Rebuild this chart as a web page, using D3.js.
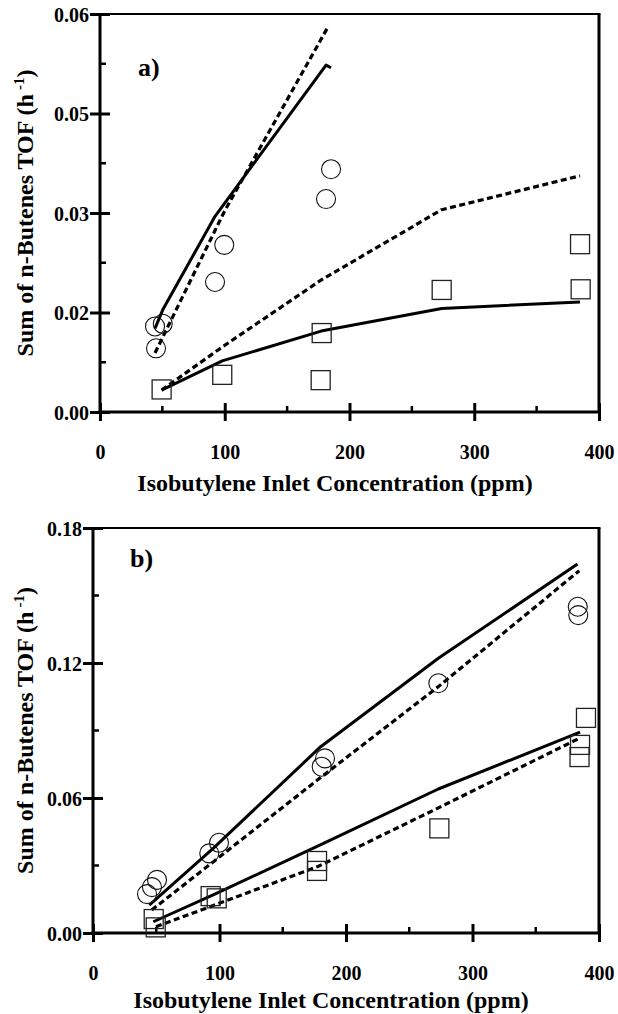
<!DOCTYPE html>
<html>
<head>
<meta charset="utf-8">
<script src="https://cdn.jsdelivr.net/npm/d3@7"></script>
<style>
  body { margin: 0; background: #fff; }
  text { font-family: "Liberation Serif", "Times New Roman", serif; font-weight: bold; fill: #000; }
</style>
</head>
<body>
<svg id="fig" width="618" height="1014"></svg>
<script>
// ---- shared axis ticks ----
const xTicks = [0, 100, 200, 300, 400];
const xMinor = [50, 150, 250, 350];

// ---- panel a: ticks ----
const aYTicks = [0, 0.015, 0.03, 0.045, 0.06];
const aYTickLabels = ["0.00", "0.02", "0.03", "0.05", "0.06"];
const aYMinor = [0.0075, 0.0225, 0.0375, 0.0525];

// ---- panel a: measured points ----
const aCircleX = [44.1, 50.3, 44.9, 92.2, 99.6, 181.2, 185.2];
const aCircleY = [0.0129, 0.0133, 0.0096, 0.0196, 0.0252, 0.0321, 0.0366];
const aSquareX = [49.4, 98.0, 177.7, 176.9, 273.9, 384.8, 385.3];
const aSquareY = [0.0034, 0.0056, 0.0119, 0.0048, 0.0184, 0.0253, 0.0185];

// ---- panel a: model curves ----
const aCircleSolidX = [44.1, 50.3, 92.2, 181.2, 185.2];
const aCircleSolidY = [0.0126, 0.0154, 0.0295, 0.0523, 0.0519];
const aCircleDashX = [44.1, 99.6, 182.9];
const aCircleDashY = [0.0089, 0.0302, 0.0581];
const aSquareSolidX = [49.4, 98.0, 177.3, 273.9, 384.8];
const aSquareSolidY = [0.0033, 0.0077, 0.0122, 0.0156, 0.0166];
const aSquareDashX = [49.4, 98.0, 177.3, 273.9, 384.8];
const aSquareDashY = [0.0033, 0.0098, 0.0199, 0.0305, 0.0356];

// ---- panel b: ticks ----
const bYTicks = [0, 0.06, 0.12, 0.18];
const bYTickLabels = ["0.00", "0.06", "0.12", "0.18"];
const bYMinor = [0.03, 0.09, 0.15];

// ---- panel b: measured points ----
const bCircleX = [42.7, 46.6, 50.6, 91.9, 99.6, 180.8, 183.4, 273.0, 383.2, 383.6];
const bCircleY = [0.0173, 0.0204, 0.0236, 0.0354, 0.0401, 0.0739, 0.0776, 0.1110, 0.1450, 0.1413];
const bSquareX = [48.0, 49.6, 93.0, 97.8, 177.1, 177.1, 273.8, 389.7, 385.0, 384.6];
const bSquareY = [0.0062, 0.0025, 0.0164, 0.0154, 0.0320, 0.0276, 0.0465, 0.0956, 0.0836, 0.0782];

// ---- panel b: model curves ----
const bCircleSolidX = [44.5, 95, 180, 273, 383];
const bCircleSolidY = [0.0124, 0.0376, 0.0828, 0.1221, 0.1640];
const bCircleDashX = [46.4, 95, 180.8, 273, 384.4];
const bCircleDashY = [0.0102, 0.0316, 0.0695, 0.1095, 0.1610];
const bSquareSolidX = [47.7, 95, 178, 273, 385];
const bSquareSolidY = [0.0050, 0.0169, 0.0387, 0.0640, 0.0893];
const bSquareDashX = [49.8, 95, 178, 273, 385];
const bSquareDashY = [0.0028, 0.0122, 0.0296, 0.0556, 0.0867];

const xTitle = "Isobutylene Inlet Concentration (ppm)";
const yTitleMain = "Sum of n-Butenes TOF (h";
const yTitleSup = "-1";

const svg = d3.select("#fig");
const zip = (xs, ys) => xs.map((v, i) => [v, ys[i]]);

function drawPanel(cfg) {
  const x = d3.scaleLinear().domain([0, 400]).range([cfg.left, cfg.right]);
  const y = d3.scaleLinear().domain([0, cfg.yMax]).range([cfg.bottom, cfg.top]);
  const g = svg.append("g");

  // frame: top and right borders
  g.append("line").attr("x1", cfg.left).attr("x2", cfg.right + 1.5)
    .attr("y1", cfg.top).attr("y2", cfg.top).attr("stroke", "#000").attr("stroke-width", 2);
  g.append("line").attr("x1", cfg.right).attr("x2", cfg.right)
    .attr("y1", cfg.top).attr("y2", cfg.bottom).attr("stroke", "#000").attr("stroke-width", 3);

  // bottom axis
  const xAxis = g.append("g").attr("transform", `translate(0,${cfg.bottom})`)
    .call(d3.axisBottom(x).tickValues(xTicks).tickSize(0).tickPadding(0).tickFormat(d3.format("d")));
  xAxis.select(".domain").remove();
  xAxis.selectAll(".tick line").attr("y1", -9).attr("y2", 9).attr("stroke", "#000").attr("stroke-width", 3);
  xAxis.selectAll(".tick text").attr("y", 47).attr("dy", null)
    .style("font-size", "20px").attr("font-family", null).attr("fill", "#000");
  g.append("line").attr("x1", cfg.left - 1.5).attr("x2", cfg.right + 1.5)
    .attr("y1", cfg.bottom).attr("y2", cfg.bottom).attr("stroke", "#000").attr("stroke-width", 3);
  g.selectAll(".xminor").data(xMinor).join("line")
    .attr("x1", d => x(d)).attr("x2", d => x(d))
    .attr("y1", cfg.bottom).attr("y2", cfg.bottom - 6)
    .attr("stroke", "#000").attr("stroke-width", 2.5);

  // left axis
  const yAxis = g.append("g").attr("transform", `translate(${cfg.left},0)`)
    .call(d3.axisLeft(y).tickValues(cfg.yTicks).tickSize(0).tickPadding(0)
      .tickFormat((d, i) => cfg.yLabels[i]));
  yAxis.select(".domain").remove();
  yAxis.selectAll(".tick line").attr("x1", -10).attr("x2", 10).attr("stroke", "#000").attr("stroke-width", 3);
  yAxis.selectAll(".tick text").attr("x", -11).attr("dy", "0.36em")
    .style("font-size", "20px").attr("font-family", null).attr("fill", "#000");
  g.append("line").attr("x1", cfg.left).attr("x2", cfg.left)
    .attr("y1", cfg.top - 1).attr("y2", cfg.bottom + 1.5).attr("stroke", "#000").attr("stroke-width", 3);
  g.selectAll(".yminor").data(cfg.yMinor).join("line")
    .attr("x1", cfg.left).attr("x2", cfg.left + 6)
    .attr("y1", d => y(d)).attr("y2", d => y(d))
    .attr("stroke", "#000").attr("stroke-width", 2.5);

  // axis titles
  g.append("text").attr("x", cfg.xTitleX).attr("y", cfg.xTitleY)
    .attr("text-anchor", "middle").style("font-size", "24px").text(xTitle);
  const yt = g.append("text")
    .attr("transform", `translate(33,${(cfg.top + cfg.bottom) / 2}) rotate(-90)`)
    .attr("text-anchor", "middle").style("font-size", "24px");
  yt.append("tspan").text(yTitleMain);
  yt.append("tspan").attr("dx", 4).attr("dy", -9).style("font-size", "15px").text(yTitleSup);
  yt.append("tspan").attr("dy", 9).text(")");

  // panel tag
  g.append("text").attr("x", cfg.tagX).attr("y", cfg.tagY).style("font-size", "26px").text(cfg.tag);

  // model curves
  const line = d3.line().x(d => x(d[0])).y(d => y(d[1]));
  cfg.curves.forEach(c => {
    g.append("path").datum(c.pts).attr("d", line)
      .attr("fill", "none").attr("stroke", "#000")
      .attr("stroke-width", c.dash ? 3.2 : 3)
      .attr("stroke-dasharray", c.dash ? "6,3.5" : null)
      .attr("stroke-linejoin", "round");
  });

  // measured points
  g.selectAll(".circ").data(cfg.circles).join("circle")
    .attr("cx", d => x(d[0])).attr("cy", d => y(d[1])).attr("r", 9.5)
    .attr("fill", "none").attr("stroke", "#111").attr("stroke-width", 1.1);
  g.selectAll(".sq").data(cfg.squares).join("rect")
    .attr("x", d => x(d[0]) - 9.5).attr("y", d => y(d[1]) - 9.5)
    .attr("width", 19).attr("height", 19)
    .attr("fill", "none").attr("stroke", "#222").attr("stroke-width", 1.3);
}

drawPanel({
  left: 100, right: 599, top: 14, bottom: 412, yMax: 0.06,
  yTicks: aYTicks, yLabels: aYTickLabels, yMinor: aYMinor,
  xTitleX: 335, xTitleY: 491, tag: "a)", tagX: 138, tagY: 76,
  circles: zip(aCircleX, aCircleY), squares: zip(aSquareX, aSquareY),
  curves: [
    { pts: zip(aCircleSolidX, aCircleSolidY), dash: false },
    { pts: zip(aCircleDashX, aCircleDashY), dash: true },
    { pts: zip(aSquareSolidX, aSquareSolidY), dash: false },
    { pts: zip(aSquareDashX, aSquareDashY), dash: true }
  ]
});

drawPanel({
  left: 93, right: 599, top: 528, bottom: 933, yMax: 0.18,
  yTicks: bYTicks, yLabels: bYTickLabels, yMinor: bYMinor,
  xTitleX: 331, xTitleY: 1008, tag: "b)", tagX: 130, tagY: 567,
  circles: zip(bCircleX, bCircleY), squares: zip(bSquareX, bSquareY),
  curves: [
    { pts: zip(bCircleSolidX, bCircleSolidY), dash: false },
    { pts: zip(bCircleDashX, bCircleDashY), dash: true },
    { pts: zip(bSquareSolidX, bSquareSolidY), dash: false },
    { pts: zip(bSquareDashX, bSquareDashY), dash: true }
  ]
});
</script>
</body>
</html>
